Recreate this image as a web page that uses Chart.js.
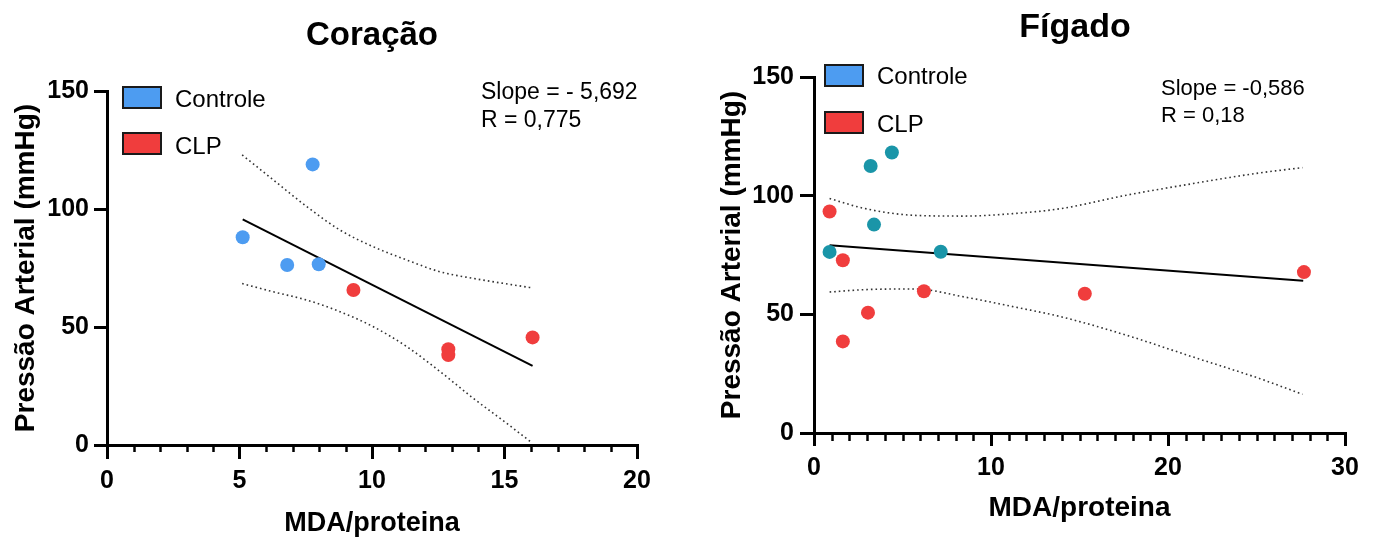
<!DOCTYPE html>
<html><head><meta charset="utf-8">
<script src="https://cdn.jsdelivr.net/npm/chart.js@4"></script>
<style>
html,body{margin:0;padding:0;background:#fff;width:1376px;height:542px;overflow:hidden}
canvas{position:absolute;top:0}
#cL{left:0}
#cR{left:700px}
</style></head><body>
<canvas id="cL" width="688" height="542"></canvas>
<canvas id="cR" width="676" height="542"></canvas>
<script>
// ---------- DATA ----------
const seriesNames = ['Controle', 'CLP'];
const yTickValues = [0, 50, 100, 150];

// Coração
const corTitle = 'Coração';
const corXTicks = [0, 5, 10, 15, 20];
const corCtrlX = [5.12, 6.80, 7.76, 7.99];
const corCtrlY = [88.0, 76.3, 118.9, 76.6];
const corClpX = [9.30, 12.88, 12.88, 16.06];
const corClpY = [65.7, 40.6, 38.1, 45.6];
const corFitX = [5.12, 16.06];
const corFitY = [95.6, 33.5];
const corUpX = [5.10, 6.28, 7.54, 8.79, 10.05, 11.31, 12.57, 13.82, 16.03];
const corUpY = [122.9, 112.3, 101.0, 91.1, 84.0, 78.4, 73.4, 70.6, 66.6];
const corLoX = [5.10, 6.28, 7.54, 8.79, 10.05, 11.31, 12.57, 13.82, 15.08, 16.03];
const corLoY = [68.4, 64.9, 61.4, 56.5, 50.1, 41.7, 31.1, 19.8, 9.2, 1.0];
const corStats = ['Slope = - 5,692', 'R = 0,775'];

// Fígado
const figTitle = 'Fígado';
const figXTicks = [0, 10, 20, 30];
const figCtrlX = [0.88, 3.20, 4.40, 3.39, 7.16];
const figCtrlY = [76.3, 112.5, 118.2, 87.8, 76.4];
const figClpX = [0.88, 1.63, 1.63, 3.05, 6.21, 15.30, 27.68];
const figClpY = [93.3, 72.8, 38.6, 50.7, 59.7, 58.7, 67.8];
const figFitX = [0.88, 27.64];
const figFitY = [79.1, 64.1];
const figUpX = [0.88, 2.86, 5.69, 8.51, 11.34, 14.00, 17.65, 21.42, 25.19, 27.60];
const figUpY = [98.8, 94.6, 91.7, 91.4, 92.5, 94.6, 100.2, 105.1, 109.6, 111.8];
const figLoX = [0.88, 2.86, 5.69, 8.51, 11.34, 14.00, 17.65, 21.42, 25.19, 27.60];
const figLoY = [59.4, 60.4, 60.7, 57.3, 53.1, 48.9, 41.2, 32.0, 22.9, 16.3];
const figStats = ['Slope = -0,586', 'R = 0,18'];

const xTitle = 'MDA/proteina';
const yTitle = 'Pressão Arterial (mmHg)';

// ---------- STYLE ----------
const FF = "'Liberation Sans', Arial, Helvetica, sans-serif";
const BLUE = '#4d9cf1', RED = '#f03d3d', TEAL = '#1a95a8';
Chart.defaults.font.family = FF;
Chart.defaults.color = '#000';

const pts = (xs, ys) => xs.map((x, i) => ({x, y: ys[i]}));

const minorTicks = {
  id: 'minorTicks',
  afterDraw(chart, args, o) {
    const s = chart.scales.x, ctx = chart.ctx;
    ctx.save(); ctx.strokeStyle = '#000'; ctx.lineWidth = 2.5;
    for (let v = s.min + o.step; v < s.max; v += o.step) {
      if (Math.abs(v / o.major - Math.round(v / o.major)) < 1e-6) continue;
      const px = Math.round(s.getPixelForValue(v)) + 0.5;
      ctx.beginPath(); ctx.moveTo(px, s.top); ctx.lineTo(px, s.top + o.len); ctx.stroke();
    }
    ctx.restore();
  }
};

const decor = {
  id: 'decor',
  afterDraw(chart, args, o) {
    const ctx = chart.ctx;
    ctx.save();
    ctx.fillStyle = '#000';
    ctx.textBaseline = 'alphabetic';
    ctx.textAlign = 'center';
    ctx.font = `bold ${o.titleSize}px ${FF}`;
    ctx.fillText(o.title, o.titleX, o.titleY);
    ctx.textAlign = 'left';
    o.legend.forEach((e, i) => {
      const y = o.legY[i];
      ctx.fillStyle = e.color;
      ctx.fillRect(o.legX, y, o.boxW, o.boxH);
      ctx.strokeStyle = '#1a1a1a'; ctx.lineWidth = 2;
      ctx.strokeRect(o.legX, y, o.boxW, o.boxH);
      ctx.fillStyle = '#000';
      ctx.font = `${o.legSize}px ${FF}`;
      ctx.fillText(e.text, o.legTextX, o.legBase[i]);
    });
    ctx.font = `${o.statSize}px ${FF}`;
    o.stats.forEach((t, i) => ctx.fillText(t, o.statX, o.statBase[i]));
    ctx.restore();
  }
};

function build(id, d) {
  return new Chart(document.getElementById(id), {
    type: 'scatter',
    data: {
      datasets: [
        {label: seriesNames[0], data: pts(d.cx, d.cy), backgroundColor: d.ctrlColor, pointRadius: 7, borderWidth: 0},
        {label: seriesNames[1], data: pts(d.rx, d.ry), backgroundColor: RED, pointRadius: 7, borderWidth: 0},
        {data: pts(d.fx, d.fy), showLine: true, pointRadius: 0, borderColor: '#000', borderWidth: 2},
        {data: pts(d.ux, d.uy), showLine: true, pointRadius: 0, borderColor: '#333', borderWidth: 1.6, borderDash: [1.6, 3], cubicInterpolationMode: 'monotone'},
        {data: pts(d.lx, d.ly), showLine: true, pointRadius: 0, borderColor: '#333', borderWidth: 1.6, borderDash: [1.6, 3], cubicInterpolationMode: 'monotone'}
      ]
    },
    options: {
      responsive: false, animation: false, events: [],
      layout: {padding: d.pad},
      plugins: {
        legend: {display: false}, tooltip: {enabled: false}, title: {display: false},
        minorTicks: {step: 1, major: d.major, len: d.minorLen},
        decor: d.decor
      },
      scales: {
        x: {
          type: 'linear', min: d.xTicks[0], max: d.xTicks[d.xTicks.length - 1],
          afterBuildTicks: s => { s.ticks = d.xTicks.map(v => ({value: v})); },
          afterFit: s => { s.height = d.xH; },
          border: {display: true, width: 3, color: '#000'},
          grid: {drawOnChartArea: false, tickLength: d.xTL, tickWidth: 3, tickColor: '#000', lineWidth: 3, color: '#000'},
          ticks: {padding: 7, font: {size: 25, weight: 'bold'}, color: '#000', maxRotation: 0},
          title: {display: true, text: xTitle, font: {size: d.xTitleSize, weight: 'bold'}, color: '#000', padding: {top: 0, bottom: d.xTitlePad}}
        },
        y: {
          type: 'linear', min: 0, max: 150,
          afterBuildTicks: s => { s.ticks = yTickValues.map(v => ({value: v})); },
          afterFit: s => { s.width = d.yW; },
          border: {display: true, width: 3, color: '#000'},
          grid: {drawOnChartArea: false, tickLength: d.yTL, tickWidth: 3, tickColor: '#000', lineWidth: 3, color: '#000'},
          ticks: {padding: d.yPad, font: {size: 25, weight: 'bold'}, color: '#000'},
          title: {display: true, text: yTitle, font: {size: 28, weight: 'bold'}, color: '#000', padding: {top: d.yTitlePad, bottom: 0}}
        }
      }
    },
    plugins: [minorTicks, decor]
  });
}

build('cL', {
  cx: corCtrlX, cy: corCtrlY, rx: corClpX, ry: corClpY, fx: corFitX, fy: corFitY,
  ux: corUpX, uy: corUpY, lx: corLoX, ly: corLoY, ctrlColor: BLUE,
  xTicks: corXTicks, major: 5, minorLen: 7,
  pad: {left: 0, right: 51, top: 91, bottom: 0},
  xH: 97, yW: 107, xTL: 14, yTL: 13, yPad: 5,
  xTitleSize: 27, xTitlePad: 2, yTitlePad: 9,
  decor: {
    title: corTitle, titleSize: 33, titleX: 372, titleY: 45,
    legend: [{text: seriesNames[0], color: BLUE}, {text: seriesNames[1], color: RED}],
    legX: 123, legY: [87, 133], boxW: 38, boxH: 21, legTextX: 175, legBase: [106.5, 154], legSize: 24,
    stats: corStats, statX: 481, statBase: [99, 127], statSize: 23
  }
});

build('cR', {
  cx: figCtrlX, cy: figCtrlY, rx: figClpX, ry: figClpY, fx: figFitX, fy: figFitY,
  ux: figUpX, uy: figUpY, lx: figLoX, ly: figLoY, ctrlColor: TEAL,
  xTicks: figXTicks, major: 10, minorLen: 8,
  pad: {left: 0, right: 31, top: 77, bottom: 0},
  xH: 109, yW: 114, xTL: 13, yTL: 14, yPad: 6,
  xTitleSize: 28, xTitlePad: 17, yTitlePad: 15,
  decor: {
    title: figTitle, titleSize: 34, titleX: 375, titleY: 37,
    legend: [{text: seriesNames[0], color: BLUE}, {text: seriesNames[1], color: RED}],
    legX: 125, legY: [65, 112], boxW: 38, boxH: 21, legTextX: 177, legBase: [83.5, 131.5], legSize: 24,
    stats: figStats, statX: 461, statBase: [95, 122], statSize: 22
  }
});
</script></body></html>
